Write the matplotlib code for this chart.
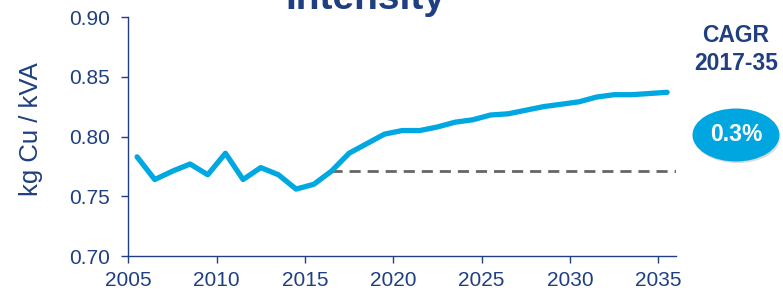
import matplotlib
matplotlib.use('Agg')
import matplotlib.pyplot as plt
from matplotlib.patches import Ellipse
import numpy as np

# copper intensity, kg Cu / kVA
years = np.arange(2005, 2036)
intensity = [0.783, 0.764, 0.771, 0.777, 0.768, 0.786, 0.764, 0.774, 0.768, 0.756,
             0.760, 0.771, 0.786, 0.794, 0.802, 0.805, 0.805, 0.808, 0.812, 0.814,
             0.818, 0.819, 0.822, 0.825, 0.827, 0.829, 0.833, 0.835, 0.835, 0.836,
             0.837]
ref_start = 2016
ref_end = 2036
ref_value = 0.771
xtick_years = [2005, 2010, 2015, 2020, 2025, 2030, 2035]
yticks = [0.70, 0.75, 0.80, 0.85, 0.90]

navy = '#1F3F80'
cyan = '#00A8E1'

plt.rcParams['font.family'] = ['Liberation Sans', 'DejaVu Sans']

fig = plt.figure(figsize=(7.83, 2.90), dpi=100)
ax = fig.add_axes([0.1638, 0.1172, 0.6995, 0.8241])

# points sit in the middle of each year slot
ax.plot(years + 0.5, intensity, color=cyan, lw=3.8, solid_capstyle='round',
        solid_joinstyle='round', zorder=3)
ax.plot([ref_start + 0.5, ref_end], [ref_value, ref_value], color='#666666',
        lw=2.0, dashes=(4, 2.5), zorder=2)

ax.set_xlim(2005, 2036)
ax.set_ylim(0.70, 0.90)
ax.set_xticks(xtick_years)
ax.set_xticklabels([str(y) for y in xtick_years])
ax.set_yticks(yticks)
ax.set_yticklabels([f'{v:.2f}' for v in yticks])

for s in ['top', 'right']:
    ax.spines[s].set_visible(False)
for s in ['left', 'bottom']:
    ax.spines[s].set_color(navy)
    ax.spines[s].set_linewidth(1.0)
ax.tick_params(axis='both', colors=navy, labelcolor=navy, labelsize=15,
               length=5, width=1.0)
ax.tick_params(axis='y', pad=8)
ax.tick_params(axis='x', pad=6)

fig.text(31 / 783, 1 - 129 / 290, 'kg Cu / kVA', rotation=90, ha='center',
         va='center', fontsize=18.5, color=navy)

# title, mostly cut off at the top edge
fig.text(365 / 783, 1 - 9 / 290, 'Intensity', ha='center', va='baseline',
         fontsize=28, fontweight='bold', color=navy)

fig.text(736 / 783, 1 - 35 / 290, 'CAGR', ha='center', va='center',
         fontsize=16.5, fontweight='bold', color=navy)
fig.text(736 / 783, 1 - 64 / 290, '2017-35', ha='center', va='center',
         fontsize=16.5, fontweight='bold', color=navy)

ex, ey = 736 / 783, 1 - 135 / 290
for i, a in enumerate([0.04, 0.05, 0.06, 0.07]):
    fig.patches.append(Ellipse((ex + 0.002, ey - 0.006 - i * 0.004),
                               (88 - 2 * i) / 783, (52 - 2 * i) / 290,
                               transform=fig.transFigure, color='#555555', alpha=a,
                               lw=0, zorder=1))
fig.patches.append(Ellipse((ex, ey), 87 / 783, 53 / 290, transform=fig.transFigure,
                           color='#00A6E0', lw=0, zorder=2))
fig.text(ex, ey, '0.3%', ha='center', va='center', fontsize=16.5,
         fontweight='bold', color='white', zorder=3)

plt.savefig('out.png', dpi=100)
